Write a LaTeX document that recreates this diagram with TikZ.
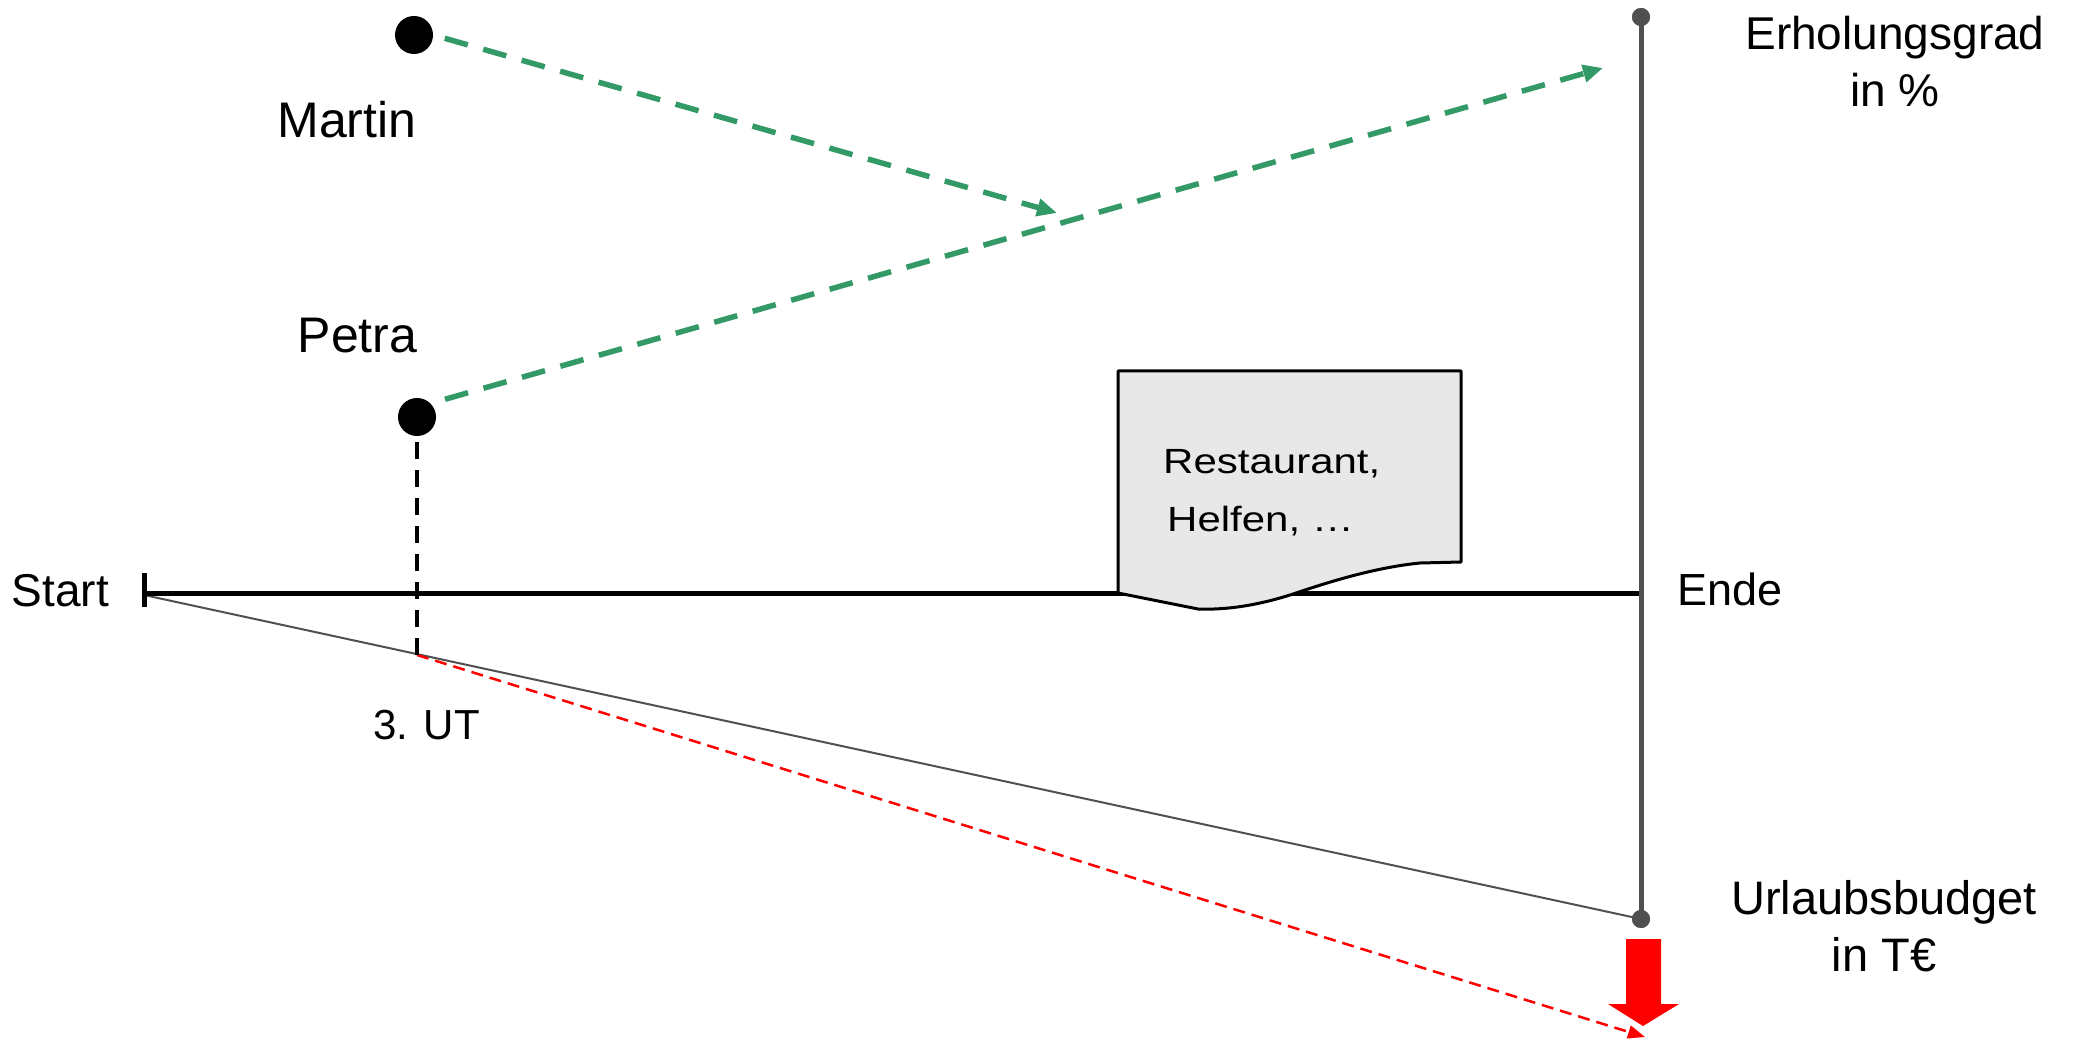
\documentclass[tikz,border=0pt]{standalone}
\usepackage{fontspec}
\setmainfont{Liberation Sans}
\newfontfamily\stretchfont[FakeStretch=1.2]{Liberation Sans}
\usetikzlibrary{arrows.meta}
\definecolor{greenarr}{RGB}{51,153,102}
\definecolor{axisgray}{RGB}{80,80,80}
\definecolor{docfill}{RGB}{232,232,232}
\tikzset{
  biglabel/.style={inner sep=0pt, anchor=base, font=\fontsize{47}{57}\selectfont, align=center},
  dotnode/.style={circle, fill=black, inner sep=0pt, minimum size=38pt},
  axisdot/.style={circle, fill=axisgray, inner sep=0pt, minimum size=18pt},
  greendash/.style={draw=greenarr, line width=5.5pt, dash pattern=on 24pt off 16pt, -{Triangle[length=20pt,width=17pt]}},
  reddash/.style={draw=red, line width=2.5pt, dash pattern=on 12pt off 7pt, -{Triangle[length=17pt,width=13pt]}},
}
\begin{document}
\begin{tikzpicture}[x=1pt, y=-1pt]
\useasboundingbox (0,0) rectangle (2073,1040);

% coordinates
\coordinate (s) at (144,595);
\coordinate (ende) at (1641,593);
\coordinate (ut) at (417,655);
\coordinate (redtip) at (1645,1037);
\coordinate (mtip) at (1057,213);
\coordinate (ptip) at (1603,68);

% axis dots
\node[axisdot] (topdot) at (1641,17) {};
\node[axisdot] (botdot) at (1641,919) {};

% diagonal budget line
\draw[axisgray, line width=2pt] (s) -- (botdot.center);
% red dashed trend
\draw[reddash] (ut) -- (redtip);

% timeline
\draw[line width=5pt] (s |- ende) -- (ende);
\draw[line width=5pt] (144,573) -- (144,607);

% document shape
\draw[fill=docfill, line width=3pt, line join=round]
  (1118,371) -- (1461,371) -- (1461,562) -- (1420,563)
  .. controls (1370,568) and (1320,585) .. (1290,595)
  .. controls (1255,606) and (1225,610) .. (1198,609)
  -- (1118,593) -- cycle;
\node[inner sep=0pt, anchor=base west, align=left, font=\stretchfont\fontsize{35}{58}\selectfont] (doc) at (1163,531) {Restaurant,\\\hspace*{4pt}Helfen, …};

% vertical axis
\draw[axisgray, line width=5pt] (topdot.center) -- (botdot.center);
\node[axisdot] at (1641,17) {};
\node[axisdot] at (1641,919) {};

% red block arrow
\fill[red] (1626,939) -- (1661,939) -- (1661,1004) -- (1679,1004) -- (1643,1026) -- (1608,1004) -- (1626,1004) -- cycle;

% persons
\node[dotnode] (martin) at (414,35) {};
\node[dotnode] (petra) at (417,417) {};
\draw[line width=3.5pt, dash pattern=on 17pt off 11pt] (petra.south) ++(0,6) -- (ut);

\draw[greendash, shorten <=12pt] (martin.east) -- (mtip);
\draw[greendash, shorten <=15pt] (petra.north east) -- (ptip);

% labels
\node[biglabel, font=\fontsize{50}{60}\selectfont] (lmartin) at (347,138) {Martin};
\node[biglabel, font=\fontsize{50}{60}\selectfont] (lpetra) at (357.5,353) {Petra};
\node[biglabel, font=\fontsize{46}{56}\selectfont] (lstart) at (60.5,606) {Start};
\node[biglabel, font=\fontsize{45}{56}\selectfont] (lende) at (1730,605) {Ende};
\node[biglabel, font=\fontsize{42}{50}\selectfont] (lut) at (426.5,739) {3. UT};
\node[biglabel, font=\fontsize{46}{57}\selectfont] (lerh) at (1895,107) {Erholungsgrad\\in \%};
\node[biglabel] (lurl) at (1884,971) {Urlaubsbudget\\in T€};
\end{tikzpicture}
\end{document}
